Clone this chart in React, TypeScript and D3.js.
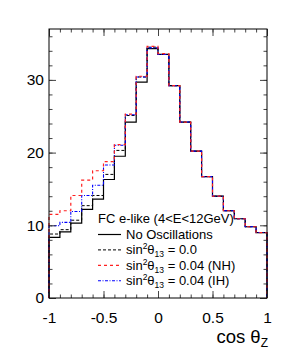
import { useEffect, useRef } from "react";
import * as d3 from "d3";

// bin edges: 20 bins of 0.1 from -1 to 1
const binEdges = d3.range(21).map((i) => -1 + i * 0.1);

const noOsc = [8.35, 9.1, 10.3, 12.2, 13.6, 16.3, 19.5, 24.2, 29.7, 34.3, 33.5, 29.2, 24.2, 20.2, 16.7, 14.0, 12.0, 10.9, 9.8, 9.0];
const theta0 = [8.8, 9.4, 10.7, 12.7, 14.1, 17.0, 20.3, 25.1, 30.4, 34.5, 33.5, 29.2, 24.2, 20.2, 16.7, 14.0, 12.0, 10.9, 9.8, 9.0];
const nh = [11.5, 12.0, 14.1, 16.2, 17.5, 18.75, 21.1, 25.3, 30.5, 34.6, 33.6, 29.2, 24.2, 20.2, 16.7, 14.0, 12.0, 10.9, 9.8, 9.0];
const ih = [9.95, 10.4, 11.9, 14.1, 15.5, 18.3, 21.0, 25.2, 30.4, 34.4, 33.5, 29.2, 24.2, 20.2, 16.7, 14.0, 12.0, 10.9, 9.8, 9.0];

const xTicks = [-1, -0.5, 0, 0.5, 1];
const yTicks = [0, 10, 20, 30];

const legendTitle = "FC e-like (4<E<12GeV)";

const App = () => {
  const ref = useRef<SVGSVGElement>(null);

  useEffect(() => {
    const svg = d3.select(ref.current);
    svg.selectAll("*").remove();

    const width = 291;
    const height = 364;
    const margin = { top: 29, right: 24, bottom: 66, left: 49 };

    const x = d3.scaleLinear().domain([-1, 1]).range([margin.left, width - margin.right]);
    const y = d3.scaleLinear().domain([0, 37]).range([height - margin.bottom, margin.top]);

    const font = "'Liberation Sans', Arial, Helvetica, sans-serif";

    // histograms
    const line = d3
      .line<[number, number]>()
      .x((d) => x(d[0]))
      .y((d) => y(d[1]))
      .curve(d3.curveStepAfter);

    const histPoints = (vals: number[]): [number, number][] => {
      const pts: [number, number][] = [[-1, 0]];
      vals.forEach((v, i) => pts.push([binEdges[i], v]));
      pts.push([1, vals[vals.length - 1]]);
      pts.push([1, 0]);
      return pts;
    };

    const sNo = { vals: noOsc, color: "#000", dash: null, w: 1.2 };
    const s0 = { vals: theta0, color: "#000", dash: "3,2", w: 1 };
    const sIH = { vals: ih, color: "#0000ff", dash: "3,1.5,1,1.5", w: 1.1 };
    const sNH = { vals: nh, color: "#ff2020", dash: "3,3", w: 1.2 };

    [sNo, s0, sIH, sNH].forEach((s) => {
      svg
        .append("path")
        .attr("d", line(histPoints(s.vals)))
        .attr("fill", "none")
        .attr("stroke", s.color)
        .attr("stroke-width", s.w)
        .attr("stroke-dasharray", s.dash);
    });

    // axes with inner ticks
    const styleAxis = (g: any) => {
      g.select(".domain").remove();
      g.selectAll(".tick line").attr("stroke", "#444");
      g.selectAll("text").attr("font-family", font).attr("font-size", 15.5).attr("fill", "#000");
    };

    const xMinor = d3.range(-1, 1.001, 0.1).map((v) => Math.round(v * 10) / 10);
    const yMinor = d3.range(0, 37, 2);

    svg.append("g")
      .attr("transform", `translate(0,${y(0)})`)
      .call(d3.axisBottom(x).tickValues(xMinor).tickSize(-3.5).tickFormat(() => ""))
      .call(styleAxis);
    svg.append("g")
      .attr("transform", `translate(0,${y(0)})`)
      .call(d3.axisBottom(x).tickValues(xTicks).tickSize(-7).tickPadding(14).tickFormat((d) => String(d)))
      .call(styleAxis);

    svg.append("g")
      .attr("transform", `translate(0,${margin.top})`)
      .call(d3.axisTop(x).tickValues(xMinor).tickSize(-3.5).tickFormat(() => ""))
      .call(styleAxis);
    svg.append("g")
      .attr("transform", `translate(0,${margin.top})`)
      .call(d3.axisTop(x).tickValues(xTicks).tickSize(-7).tickFormat(() => ""))
      .call(styleAxis);

    svg.append("g")
      .attr("transform", `translate(${margin.left},0)`)
      .call(d3.axisLeft(y).tickValues(yMinor).tickSize(-3.5).tickFormat(() => ""))
      .call(styleAxis);
    svg.append("g")
      .attr("transform", `translate(${margin.left},0)`)
      .call(d3.axisLeft(y).tickValues(yTicks).tickSize(-7).tickPadding(5).tickFormat((d) => String(d)))
      .call(styleAxis);

    svg.append("g")
      .attr("transform", `translate(${width - margin.right},0)`)
      .call(d3.axisRight(y).tickValues(yMinor).tickSize(-3.5).tickFormat(() => ""))
      .call(styleAxis);
    svg.append("g")
      .attr("transform", `translate(${width - margin.right},0)`)
      .call(d3.axisRight(y).tickValues(yTicks).tickSize(-7).tickFormat(() => ""))
      .call(styleAxis);

    // frame
    svg.append("rect")
      .attr("x", x(-1))
      .attr("y", y(37))
      .attr("width", x(1) - x(-1))
      .attr("height", y(0) - y(37))
      .attr("fill", "none")
      .attr("stroke", "#000")
      .attr("stroke-width", 1);

    // axis title
    const xt = svg.append("text")
      .attr("x", x(1) + 1)
      .attr("y", 343)
      .attr("text-anchor", "end")
      .attr("font-family", font)
      .attr("font-size", 18.5);
    xt.append("tspan").text("cos θ");
    xt.append("tspan").attr("font-size", 12).attr("dy", 4).text("Z");

    // legend
    const lx = 98;
    svg.append("text")
      .attr("x", lx)
      .attr("y", 223)
      .attr("font-family", font)
      .attr("font-size", 13)
      .text(legendTitle);

    const entries = [
      { label: "No Oscillations", s: sNo, value: null },
      { label: null, s: s0, value: "0.0" },
      { label: null, s: sNH, value: "0.04 (NH)" },
      { label: null, s: sIH, value: "0.04 (IH)" },
    ];

    entries.forEach((e, i) => {
      const ly = 234.5 + i * 15.4;
      svg.append("line")
        .attr("x1", lx)
        .attr("x2", lx + 23)
        .attr("y1", ly)
        .attr("y2", ly)
        .attr("stroke", e.s.color)
        .attr("stroke-width", e.s.w)
        .attr("stroke-dasharray", e.s.dash);
      const t = svg.append("text")
        .attr("x", 126)
        .attr("y", ly + 4.3)
        .attr("font-family", font)
        .attr("font-size", 13);
      if (e.label) {
        t.text(e.label);
      } else {
        t.append("tspan").text("sin");
        t.append("tspan").attr("font-size", 8.5).attr("dy", -5).text("2");
        t.append("tspan").attr("dy", 5).text("θ");
        t.append("tspan").attr("font-size", 8.5).attr("dy", 3).text("13");
        t.append("tspan").attr("dy", -3).text(` = ${e.value}`);
      }
    });
  }, []);

  return (
    <svg
      ref={ref}
      width={291}
      height={364}
      style={{ position: "absolute", left: 0, top: 0, background: "#fff" }}
    />
  );
};

export default App;
